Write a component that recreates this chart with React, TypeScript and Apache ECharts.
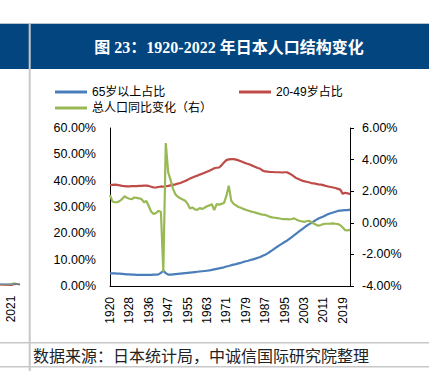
import React, { useEffect, useRef } from "react";
import * as echarts from "echarts";

const years: string[] = [];
for (let y = 1920; y <= 1940; y++) years.push(String(y));
for (let y = 1944; y <= 2022; y++) years.push(String(y));

const share65 = [
  4.8, 4.8, 4.8, 4.7, 4.7, 4.6, 4.5, 4.4, 4.4, 4.3,
  4.3, 4.2, 4.2, 4.2, 4.2, 4.2, 4.2, 4.2, 4.3, 4.3,
  4.4, 5.0, 5.8, 4.9, 4.3, 4.3, 4.4, 4.5, 4.6, 4.7,
  4.8, 4.9, 5.0, 5.1, 5.2, 5.3, 5.4, 5.5, 5.6, 5.7,
  5.8, 5.9, 6.1, 6.3, 6.5, 6.7, 6.9, 7.1, 7.4, 7.6,
  7.9, 8.1, 8.3, 8.6, 8.8, 9.1, 9.4, 9.6, 9.9, 10.1,
  10.4, 10.7, 11.0, 11.5, 11.9, 12.4, 13.0, 13.6, 14.3, 14.9,
  15.5, 16.1, 16.7, 17.2, 17.9, 18.6, 19.3, 20.0, 20.7, 21.4,
  22.1, 22.8, 23.4, 23.9, 24.5, 25.1, 25.6, 26.0, 26.4, 26.9,
  27.3, 27.6, 27.9, 28.2, 28.5, 28.6, 28.7, 28.8, 28.8, 29.0,
];

const share2049 = [
  38.3, 38.4, 38.5, 38.4, 38.2, 38.0, 37.9, 37.8, 37.8, 37.9,
  37.9, 37.9, 38.0, 38.0, 38.1, 38.1, 38.0, 37.7, 37.4, 37.4,
  37.6, 37.8, 37.7, 37.9, 38.0, 38.2, 38.4, 38.6, 38.9, 39.1,
  39.5, 39.9, 40.3, 40.8, 41.2, 41.6, 41.9, 42.3, 42.6, 43.0,
  43.4, 43.8, 44.2, 44.7, 44.9, 45.0, 45.8, 46.9, 47.8, 48.1,
  48.2, 48.2, 48.0, 47.7, 47.4, 47.0, 46.6, 46.3, 46.0, 45.6,
  45.2, 44.8, 44.5, 43.8, 43.5, 43.4, 43.3, 43.3, 43.2, 43.2,
  43.2, 43.1, 43.2, 43.2, 42.7, 42.2, 41.5, 40.9, 40.5, 40.1,
  39.8, 39.6, 39.4, 39.1, 39.0, 38.8, 38.6, 38.5, 38.3, 38.0,
  37.8, 37.6, 37.4, 37.2, 36.9, 36.6, 35.0, 35.4, 35.2, 34.9,
];

const popGrowth = [
  1.75, 1.35, 1.3, 1.3, 1.38, 1.5, 1.68, 1.58, 1.52, 1.5,
  1.6, 1.58, 1.55, 1.5, 1.3, 1.38, 1.05, 0.7, 0.56, 0.62,
  0.75, 0.7, -3.1, 5.05, 3.2, 2.7, 2.15, 1.8, 1.65, 1.55,
  1.48, 1.4, 1.2, 0.9, 0.97, 0.85, 0.82, 0.93, 0.88, 0.95,
  1.05, 1.1, 1.18, 0.8, 1.18, 1.15, 1.2, 1.25, 1.7, 2.35,
  1.4, 1.2, 1.1, 1.0, 0.95, 0.88, 0.82, 0.78, 0.72, 0.68,
  0.64, 0.6, 0.55, 0.52, 0.5, 0.44, 0.37, 0.34, 0.32, 0.3,
  0.27, 0.24, 0.23, 0.23, 0.22, 0.24, 0.28, 0.2, 0.13, 0.1,
  0.06, 0.1, 0.13, 0.05, -0.04, -0.12, -0.19, -0.14, -0.08, -0.06,
  -0.06, -0.05, -0.04, -0.06, -0.08, -0.15, -0.3, -0.47, -0.48, -0.45,
];

const seriesNames = ["65岁以上占比", "20-49岁占比", "总人口同比变化（右）"];
const seriesColors = ["#4A7EBB", "#BE4B48", "#98B954"];

const TITLE = "图 23：1920-2022 年日本人口结构变化";
const SOURCE = "数据来源：日本统计局，中诚信国际研究院整理";

const sans = "'Liberation Sans', 'Noto Sans CJK SC', sans-serif";

export default function App() {
  const ref = useRef<HTMLDivElement>(null);
  useEffect(() => {
    if (!ref.current) return;
    const chart = echarts.init(ref.current, undefined, { renderer: "svg" });
    const pct = (v: number) => v.toFixed(2) + "%";
    const legendBase = {
      icon: "rect",
      itemWidth: 32,
      itemHeight: 3,
      itemGap: 4,
      padding: 0,
      textStyle: { color: "#000", fontSize: 12, fontFamily: sans },
    };
    chart.setOption({
      animation: false,
      backgroundColor: "#fff",
      legend: [
        { ...legendBase, data: [seriesNames[0]], left: 55, top: 86 },
        { ...legendBase, data: [seriesNames[1]], left: 239, top: 86 },
        { ...legendBase, data: [seriesNames[2]], left: 55, top: 102 },
      ],
      grid: { left: 110, right: 79, top: 128, bottom: 85, containLabel: false },
      xAxis: {
        type: "category",
        data: years,
        boundaryGap: false,
        axisLine: { show: true, lineStyle: { color: "#000", width: 1 } },
        axisTick: { show: false },
        axisLabel: {
          interval: 7,
          rotate: 90,
          margin: 11,
          color: "#000",
          fontSize: 12,
          fontFamily: sans,
        },
      },
      yAxis: [
        {
          type: "value",
          min: 0,
          max: 60,
          interval: 10,
          position: "left",
          axisLine: { show: true, lineStyle: { color: "#000", width: 1 } },
          axisTick: { show: false },
          splitLine: { show: false },
          axisLabel: { formatter: pct, color: "#000", fontSize: 12.5, fontFamily: sans, margin: 14 },
        },
        {
          type: "value",
          min: -4,
          max: 6,
          interval: 2,
          position: "right",
          axisLine: { show: true, lineStyle: { color: "#000", width: 1 } },
          axisTick: { show: true, length: 4, inside: false, lineStyle: { color: "#000" } },
          splitLine: { show: false },
          axisLabel: { formatter: pct, color: "#000", fontSize: 12.5, fontFamily: sans, margin: 12 },
        },
      ],
      series: [
        {
          name: seriesNames[0],
          type: "line",
          data: share65,
          yAxisIndex: 0,
          symbol: "none",
          color: seriesColors[0],
          lineStyle: { width: 2.2, color: seriesColors[0] },
        },
        {
          name: seriesNames[1],
          type: "line",
          data: share2049,
          yAxisIndex: 0,
          symbol: "none",
          color: seriesColors[1],
          lineStyle: { width: 2.2, color: seriesColors[1] },
        },
        {
          name: seriesNames[2],
          type: "line",
          data: popGrowth,
          yAxisIndex: 1,
          symbol: "none",
          color: seriesColors[2],
          lineStyle: { width: 2.2, color: seriesColors[2] },
        },
      ],
      graphic: [
        { type: "rect", shape: { x: 0, y: 23, width: 429, height: 46 }, style: { fill: "#02457F" }, z: 0 },
        { type: "line", shape: { x1: 0, y1: 23.5, x2: 429, y2: 23.5 }, style: { stroke: "#B8C4D0", lineWidth: 1 } },
        { type: "line", shape: { x1: 29.7, y1: 23, x2: 29.7, y2: 371 }, style: { stroke: "#C8C8C8", lineWidth: 2 } },
        {
          type: "text",
          x: 229,
          y: 47,
          style: {
            text: TITLE,
            fill: "#fff",
            font: "bold 16px 'Liberation Serif', 'Noto Sans CJK SC', serif",
            align: "center",
            verticalAlign: "middle",
          },
        },
        { type: "line", shape: { x1: 0, y1: 342.7, x2: 429, y2: 342.7 }, style: { stroke: "#C8C8C8", lineWidth: 1.5 } },
        { type: "line", shape: { x1: 0, y1: 366.7, x2: 429, y2: 366.7 }, style: { stroke: "#C8C8C8", lineWidth: 1.5 } },
        {
          type: "text",
          x: 33,
          y: 355,
          style: {
            text: SOURCE,
            fill: "#222",
            font: "16px 'Noto Sans CJK SC', sans-serif",
            align: "left",
            verticalAlign: "middle",
          },
        },
        {
          type: "text",
          x: 11,
          y: 309,
          rotation: Math.PI / 2,
          style: {
            text: "2021",
            fill: "#000",
            font: "12px 'Liberation Sans', sans-serif",
            align: "center",
            verticalAlign: "middle",
          },
        },
        { type: "polyline", shape: { points: [[0, 284.5], [10, 284.5], [14, 283], [20, 284.5]] }, style: { stroke: "#98B954", lineWidth: 1.5, fill: "none" } },
        { type: "polyline", shape: { points: [[0, 285], [12, 285.5], [16, 284], [20, 285]] }, style: { stroke: "#BE4B48", lineWidth: 1.2, fill: "none" } },
        { type: "polyline", shape: { points: [[0, 284], [20, 284]] }, style: { stroke: "#4A7EBB", lineWidth: 1, fill: "none" } },
      ],
    });
    return () => chart.dispose();
  }, []);
  return (
    <div
      ref={ref}
      style={{ position: "fixed", left: 0, top: 0, width: 429, height: 371 }}
    />
  );
}
